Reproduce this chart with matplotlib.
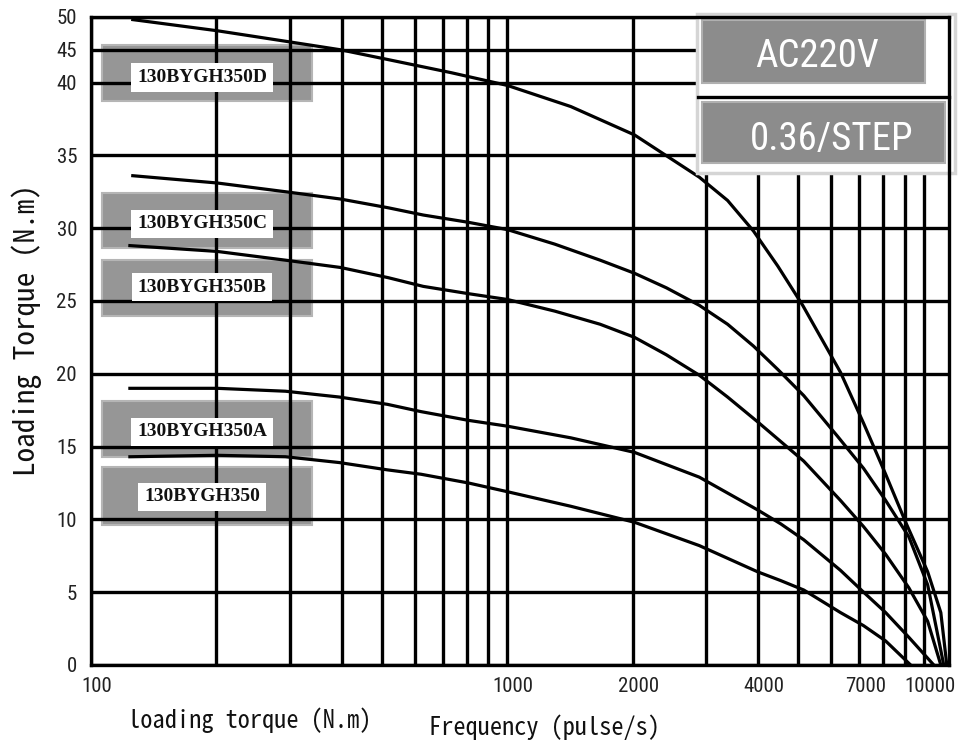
import numpy as np
import matplotlib
matplotlib.use('Agg')
import matplotlib.pyplot as plt
from matplotlib.patches import Rectangle
from matplotlib.ticker import FixedLocator, NullFormatter
from matplotlib import font_manager
import matplotlib.transforms as mtransforms

# ---- data (frequency in pulse/s, torque in N.m) ----
freq_D = [126, 201, 293, 397, 517, 733, 1000, 1420, 2020, 2890, 3380, 3900, 4460, 5120, 6310, 7170, 8100, 9050, 10220, 10990, 11360]
torque_D = [49.6, 47.9, 46.3, 45.0, 43.5, 41.5, 39.8, 38.35, 36.4, 33.5, 31.9, 29.8, 27.4, 24.7, 20.1, 16.6, 13.1, 9.8, 6.4, 3.6, 0]

freq_C = [126, 201, 293, 397, 517, 628, 806, 1000, 1300, 1670, 2020, 2410, 2890, 3380, 3900, 4460, 5150, 6210, 7170, 8100, 9210, 10220, 11170]
torque_C = [33.6, 33.1, 32.5, 32.0, 31.4, 30.9, 30.4, 29.9, 28.9, 27.8, 26.9, 25.9, 24.7, 23.4, 21.9, 20.3, 18.5, 15.7, 13.5, 11.3, 8.8, 5.5, 0]

freq_B = [124, 201, 293, 397, 517, 628, 806, 1000, 1300, 1670, 2020, 2410, 2890, 3380, 3990, 5150, 6310, 7170, 8100, 9210, 10220, 10990]
torque_B = [28.8, 28.4, 27.8, 27.3, 26.6, 26.0, 25.5, 25.1, 24.3, 23.4, 22.5, 21.3, 19.9, 18.4, 16.7, 14.0, 11.3, 9.5, 7.6, 5.3, 3.0, 0]

freq_A = [124, 201, 293, 395, 515, 620, 806, 1000, 1420, 2020, 2890, 3990, 4530, 5150, 6310, 7170, 8100, 9210, 10570]
torque_A = [19.0, 19.0, 18.8, 18.4, 17.9, 17.4, 16.8, 16.4, 15.6, 14.6, 12.9, 10.65, 9.7, 8.6, 6.5, 5.0, 3.6, 1.9, 0]

freq_0 = [124, 201, 293, 395, 515, 620, 806, 1000, 1420, 2020, 2890, 3990, 4530, 5150, 6310, 7170, 8100, 9300]
torque_0 = [14.3, 14.4, 14.3, 13.9, 13.4, 13.1, 12.5, 11.9, 10.9, 9.8, 8.2, 6.4, 5.8, 5.15, 3.6, 2.7, 1.65, 0]

models = ['130BYGH350D', '130BYGH350C', '130BYGH350B', '130BYGH350A', '130BYGH350']

xtick_vals = [100, 1000, 2000, 4000, 7000, 10000]
xtick_labels = ['100', '1000', '2000', '4000', '7000', '10000']
xminor_vals = [200, 300, 400, 500, 600, 700, 800, 900, 3000, 5000, 6000, 8000, 9000]
ytick_vals = [0, 5, 10, 15, 20, 25, 30, 35, 40, 45, 50]


def pick(*names):
    for n in names:
        try:
            font_manager.findfont(font_manager.FontProperties(family=n), fallback_to_default=False)
            return n
        except ValueError:
            pass
    return 'DejaVu Sans'


narrow = pick('Liberation Sans Narrow', 'Roboto Condensed', 'DejaVu Sans')
mono = pick('Noto Sans Mono CJK JP', 'DejaVu Sans Mono')
serif = pick('Liberation Serif', 'DejaVu Serif')


# top of the axis (above 40) is squeezed in the original
def fwd(y):
    y = np.asarray(y, dtype=float)
    return np.where(y > 40, 40 + (y - 40) * 0.45, y)


def inv(y):
    y = np.asarray(y, dtype=float)
    return np.where(y > 40, 40 + (y - 40) / 0.45, y)


fig = plt.figure(figsize=(9.67, 7.45), dpi=100)
ax = fig.add_axes([0.0941, 0.1074, 0.8873, 0.8698])
ax.set_xscale('log')
ax.set_yscale('function', functions=(fwd, inv))
ax.set_xlim(100, 11500)
ax.set_ylim(0, 50)

ax.xaxis.set_major_locator(FixedLocator(xtick_vals))
ax.set_xticklabels(xtick_labels)
ax.xaxis.set_minor_locator(FixedLocator(xminor_vals))
ax.xaxis.set_minor_formatter(NullFormatter())
ax.yaxis.set_major_locator(FixedLocator(ytick_vals))
ax.set_yticklabels([str(v) for v in ytick_vals])
ax.yaxis.set_minor_locator(FixedLocator([]))
ax.tick_params(which='both', length=0)
ax.tick_params(axis='x', pad=9)
ax.tick_params(axis='y', pad=10)
for lbl in ax.get_xticklabels() + ax.get_yticklabels():
    lbl.set_fontfamily(narrow)
    lbl.set_fontsize(15)
    lbl.set_color('#222222')
for lbl in ax.get_xticklabels():
    lbl.set_transform(lbl.get_transform() + mtransforms.ScaledTranslation(6 / 100, 0, fig.dpi_scale_trans))

ax.set_axisbelow(True)
ax.grid(which='both', color='black', lw=2.4)
for sp in ax.spines.values():
    sp.set_linewidth(2.4)
    sp.set_zorder(6)

# curves
for fx, ty in [(freq_D, torque_D), (freq_C, torque_C), (freq_B, torque_B),
               (freq_A, torque_A), (freq_0, torque_0)]:
    ax.plot(fx, ty, color='black', lw=2.3, zorder=2, solid_joinstyle='round')

# model label boxes (axes fraction)
box_y = [(0.8704, 0.0864), (0.6435, 0.0849), (0.5386, 0.0864), (0.3210, 0.0864), (0.2160, 0.0896)]
text_y = [0.907, 0.6806, 0.5833, 0.3596, 0.2593]
for name, (y0, h), ty in zip(models, box_y, text_y):
    ax.add_patch(Rectangle((0.0128, y0), 0.2448, h, transform=ax.transAxes,
                           facecolor='#969696', edgecolor='#b5b5b5', lw=1.5, zorder=0.3))
    ax.text(0.1294, ty, name, transform=ax.transAxes, ha='center', va='center',
            fontfamily=serif, fontweight='bold', fontsize=14, color='#111111', zorder=3,
            bbox=dict(boxstyle='square,pad=0.3', facecolor='white', edgecolor='none'))

# top right info panel
ax.add_patch(Rectangle((0.7063, 0.7593), 0.3007, 0.2453, transform=ax.transAxes,
                       facecolor='white', edgecolor='#d5d5d5', lw=2.5, zorder=4, clip_on=False))
ax.plot([0.7075, 1.0], [0.8765, 0.8765], transform=ax.transAxes, color='black',
        lw=2.4, zorder=4.5, clip_on=False)
ax.add_patch(Rectangle((0.7121, 0.8981), 0.2599, 0.0973, transform=ax.transAxes,
                       facecolor='#8c8c8c', edgecolor='#b0b0b0', lw=1.5, zorder=4.6))
ax.add_patch(Rectangle((0.7121, 0.7747), 0.2832, 0.0941, transform=ax.transAxes,
                       facecolor='#8c8c8c', edgecolor='#b0b0b0', lw=1.5, zorder=4.6))
ax.text(0.8462, 0.9383, 'AC220V', transform=ax.transAxes, ha='center', va='center',
        fontfamily=narrow, fontsize=28, color='white', zorder=4.7)
ax.text(0.8636, 0.8102, '0.36/STEP', transform=ax.transAxes, ha='center', va='center',
        fontfamily=narrow, fontsize=28, color='white', zorder=4.7)

# axis titles
fig.text(0.0279, 0.557, 'Loading Torque (N.m)', rotation=90, ha='center', va='center',
         fontfamily=mono, fontsize=21, color='#111111')
fig.text(0.2585, 1 - 720 / 745, 'loading torque (N.m)', ha='center', va='center',
         fontfamily=mono, fontsize=17.5, color='#111111')
fig.text(0.5630, 1 - 727 / 745, 'Frequency (pulse/s)', ha='center', va='center',
         fontfamily=mono, fontsize=17.5, color='#111111')

fig.savefig('out.png', dpi=100)
